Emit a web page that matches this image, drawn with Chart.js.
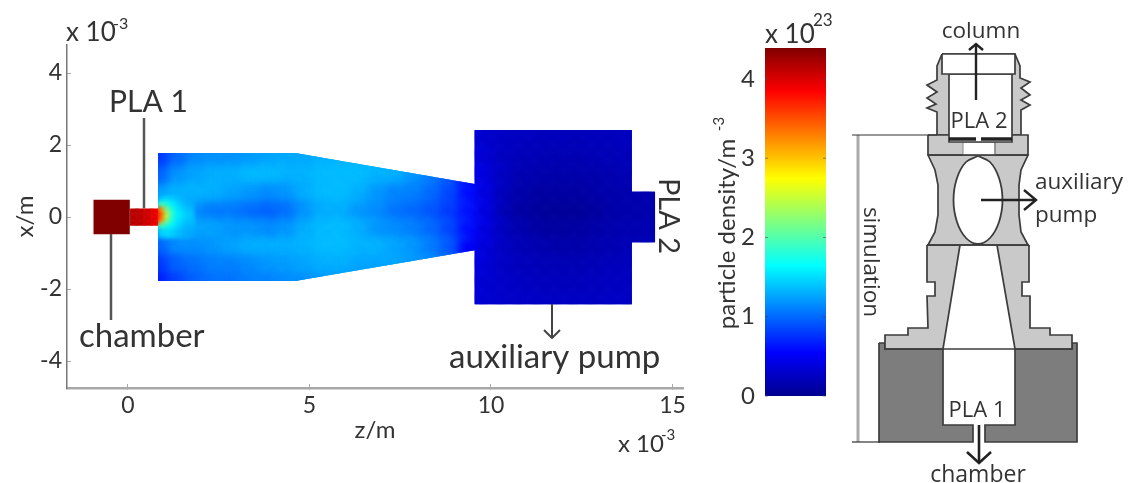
<!DOCTYPE html>
<html><head><meta charset="utf-8">
<script src="https://cdn.jsdelivr.net/npm/chart.js@4/dist/chart.umd.min.js"></script>
<style>
html,body{margin:0;padding:0;background:#fff;width:1129px;height:483px;overflow:hidden}
canvas{position:absolute;filter:blur(.55px)}
#wMain{position:absolute;left:0;top:0;width:700px;height:483px}
#wBar{position:absolute;left:700px;top:0;width:140px;height:483px}
#wSch{position:absolute;left:840px;top:0;width:289px;height:483px}
</style></head><body>
<div id="wMain"><canvas id="cMain"></canvas></div>
<div id="wBar"><canvas id="cBar"></canvas></div>
<div id="wSch"><canvas id="cSch"></canvas></div>
<script>
// ---- axes ----
const zTicks=[0,5,10,15];
const xTicks=[-4,-2,0,2,4];
const barTicks=[0,1,2,3,4];
// ---- density (units of 1e23 per m3) ----
const bulkZ=[0.5,1,1.5,2,2.5,3,3.5,4,4.5,5,5.5,6,6.5,7,7.5,8,8.5,9,9.5,10,10.5,11,11.5,12,12.5,13,13.5,14,14.5];
const bulkX=[2.5,2,1.5,1,0.5,0,-0.5,-1,-1.5,-2,-2.5];
const rowP25=[null,null,null,null,null,null,null,null,null,null,null,null,null,null,null,null,null,null,.36,.3,.28,.27,.26,.25,.25,.25,.25,.26,.26];
const rowP20=[.65,.72,.9,1.02,1.1,1.1,1.12,1.15,1.18,1.22,1.24,1.26,1.28,1.28,1.28,1.22,1.15,1,.38,.3,.26,.24,.22,.22,.21,.22,.22,.24,.24];
const rowP15=[.7,.8,1.02,1.15,1.18,1.18,1.22,1.26,1.28,1.28,1.32,1.32,1.32,1.32,1.28,1.26,1.15,1,.45,.32,.24,.2,.19,.18,.18,.19,.2,.22,.22];
const rowP10=[.85,.98,1.2,1.26,1.3,1.3,1.35,1.35,1.32,1.32,1.36,1.36,1.36,1.32,1.3,1.2,1.08,.92,.52,.36,.24,.17,.15,.14,.14,.15,.17,.19,.19];
const rowP05=[1,1.25,1.32,1.32,1.3,1.25,1.2,1.15,1.2,1.3,1.36,1.36,1.3,1.2,1.12,1.1,1,.85,.6,.38,.2,.13,.1,.1,.1,.13,.15,.16,.16];
const rowZ00=[1.25,1.4,1.28,1.15,1.08,1.08,1.02,.98,1.04,1.2,1.3,1.3,1.2,1.15,1.05,1,.92,.8,.62,.38,.18,.1,.07,.06,.06,.09,.13,.15,.15];
const rowM05=[1,1.25,1.32,1.26,1.25,1.2,1.2,1.15,1.2,1.3,1.36,1.36,1.3,1.2,1.15,1.1,1,.85,.6,.38,.22,.15,.1,.09,.1,.13,.16,.17,.17];
const rowM10=[.85,.98,1.15,1.16,1.2,1.25,1.3,1.3,1.3,1.32,1.36,1.36,1.32,1.32,1.26,1.2,1.08,.92,.52,.36,.25,.19,.16,.14,.14,.16,.18,.2,.2];
const rowM15=[.7,.8,.98,1.04,1.1,1.1,1.15,1.2,1.22,1.26,1.3,1.3,1.26,1.26,1.26,1.2,1.15,1,.45,.34,.26,.22,.2,.19,.19,.2,.22,.23,.23];
const rowM20=[.6,.68,.85,.98,1.04,1.04,1.1,1.1,1.15,1.16,1.2,1.2,1.2,1.2,1.2,1.16,1.1,1,.38,.32,.28,.25,.23,.22,.22,.23,.24,.25,.25];
const rowM25=[null,null,null,null,null,null,null,null,null,null,null,null,null,null,null,null,null,null,.38,.32,.29,.27,.26,.25,.25,.25,.26,.26,.26];
const bulkRows=[rowP25,rowP20,rowP15,rowP10,rowP05,rowZ00,rowM05,rowM10,rowM15,rowM20,rowM25];
// jet region around the end of PLA 1
const hotZ=[0.8,0.95,1.1,1.25,1.4,1.55,1.7];
const hotX=[0.45,0.3,0.15,0,-0.15,-0.3,-0.45];
const hotRows=[
 [1.2,1.45,1.5,1.45,1.38,1.32,1.28],
 [1.6,2.0,1.75,1.6,1.48,1.38,1.32],
 [3.8,3.2,2.2,1.75,1.55,1.45,1.38],
 [3.9,3.4,2.5,1.8,1.6,1.5,1.42],
 [3.8,3.2,2.2,1.75,1.55,1.45,1.38],
 [1.6,2.0,1.75,1.6,1.48,1.38,1.32],
 [1.2,1.45,1.5,1.45,1.38,1.32,1.28]];
const channelZ=[0.15,0.35,0.55,0.75,0.95];
const channelX=[0.2,0,-0.2];
const channelValues=[4.15,4.12,4.05,3.95,3.7];
const chamberValue=4.4;
const barMax=4.39;
// outlines of the simulated domain, z then x
const domainZ=[0.83,4.6,9.55,9.55,13.88,13.88,14.52,14.52,13.88,13.88,9.55,9.55,4.6,0.83];
const domainX=[1.78,1.78,0.92,2.42,2.42,0.7,0.7,-0.7,-0.7,-2.42,-2.42,-0.92,-1.78,-1.78];
const channelOutlineZ=[0.05,0.95,0.95,0.05];
const channelOutlineX=[0.24,0.24,-0.24,-0.24];
const chamberOutlineZ=[-0.95,0.05,0.05,-0.95];
const chamberOutlineX=[0.48,0.48,-0.48,-0.48];
// jet colour map
const jetStops=[[0,0,0,143],[.125,0,0,255],[.375,0,255,255],[.625,255,255,0],[.875,255,0,0],[1,128,0,0]];
function jet(v){
  const f=Math.max(0,Math.min(1,v/barMax));
  for(let i=1;i<jetStops.length;i++){
    if(f<=jetStops[i][0]){
      const a=jetStops[i-1],b=jetStops[i],t=(f-a[0])/(b[0]-a[0]);
      return `rgb(${a[1]+(b[1]-a[1])*t},${a[2]+(b[2]-a[2])*t},${a[3]+(b[3]-a[3])*t})`;
    }
  }
  return 'rgb(128,0,0)';
}
function gridPoints(zs,xs,rows){
  const out=[];
  xs.forEach((x,r)=>zs.forEach((z,c)=>{const v=rows[r][c];if(v!==null)out.push({x:z,y:x,v});}));
  return out;
}
function layer(data,step,overlap,blur,outZ,outX,order){
  return {type:'scatter',data,order,showLine:false,pointStyle:'rect',pointBorderWidth:0,
    pointRadius:c=>{const s=c.chart.scales.x;return Math.abs(s.getPixelForValue(step)-s.getPixelForValue(0))*overlap/Math.SQRT2;},
    pointHoverRadius:0,
    pointBackgroundColor:c=>jet(c.raw.v),
    heat:{blur,outZ,outX}};
}
const TXT='#333333', SANS='Lato, sans-serif', OPEN='"Open Sans", sans-serif';
function label(ctx,t,x,y,o={}){
  ctx.save();ctx.translate(x,y);if(o.rot)ctx.rotate(o.rot);
  ctx.font=o.font||`22px ${SANS}`;ctx.fillStyle=o.color||TXT;ctx.textAlign=o.align||'left';ctx.textBaseline='middle';
  ctx.fillText(t,0,0);ctx.restore();
}
function seg(ctx,pts,w,col){
  ctx.save();ctx.strokeStyle=col;ctx.lineWidth=w;ctx.lineJoin='round';ctx.beginPath();
  pts.forEach((p,i)=>i?ctx.lineTo(p[0],p[1]):ctx.moveTo(p[0],p[1]));ctx.stroke();ctx.restore();
}
const heatPlugin={id:'heat',
  beforeDatasetDraw(chart,args){
    const h=chart.data.datasets[args.index].heat;if(!h)return;
    const c=chart.ctx,sx=chart.scales.x,sy=chart.scales.y;
    c.save();c.beginPath();
    h.outZ.forEach((z,i)=>{const px=sx.getPixelForValue(z),py=sy.getPixelForValue(h.outX[i]);i?c.lineTo(px,py):c.moveTo(px,py);});
    c.closePath();c.clip();
    c.filter=`blur(${h.blur}px)`;
  },
  afterDatasetDraw(chart,args){
    if(chart.data.datasets[args.index].heat)chart.ctx.restore();
  }};
const mainNotes={id:'mainNotes',afterDraw(chart){
  const c=chart.ctx;
  seg(c,[[144,118],[144,208]],2.5,'#555');
  seg(c,[[111,234],[111,320]],2.5,'#555');
  seg(c,[[552,304],[552,338]],2,'#444');
  seg(c,[[544,330],[552,338],[560,330]],2,'#444');
  label(c,'PLA 1',109,102,{font:`30px ${SANS}`});
  label(c,'chamber',79,336,{font:`33px ${SANS}`});
  label(c,'auxiliary pump',449,357,{font:`33px ${SANS}`});
  label(c,'PLA 2',668,216,{font:`29px ${SANS}`,rot:Math.PI/2,align:'center'});
  label(c,'x 10',66,33,{font:`26px ${SANS}`});
  label(c,'-3',113,24,{font:`16px ${SANS}`});
  label(c,'x 10',618,444,{font:`24px ${SANS}`});
  label(c,'-3',661,435,{font:`15px ${SANS}`});
}};
new Chart(document.getElementById('cMain'),{
  type:'scatter',
  data:{datasets:[
    layer(gridPoints(bulkZ,bulkX,bulkRows),0.5,1.6,5,domainZ,domainX,3),
    layer(gridPoints(channelZ,channelX,channelX.map(()=>channelValues)),0.2,1.3,1,channelOutlineZ,channelOutlineX,2),
    layer(gridPoints(hotZ,hotX,hotRows),0.15,1.5,2,domainZ,domainX,1),
    layer([{x:-0.45,y:0,v:chamberValue}],1.1,1.1,0,chamberOutlineZ,chamberOutlineX,0)
  ]},
  plugins:[heatPlugin,mainNotes],
  options:{responsive:true,maintainAspectRatio:false,animation:false,events:[],
    layout:{padding:{left:0,top:45,right:17,bottom:0}},
    plugins:{legend:{display:false},tooltip:{enabled:false}},
    scales:{
      x:{type:'linear',min:-1.68,max:15.29,
        afterBuildTicks:s=>{s.ticks=zTicks.map(value=>({value}));},
        afterFit:s=>{s.height=95;},
        grid:{drawOnChartArea:false,tickLength:-4,tickColor:'#aaa'},
        border:{color:'#a8a8a8',width:2.5},
        ticks:{color:TXT,font:{family:'Lato',size:23},padding:8,maxRotation:0},
        title:{display:true,text:'z/m',color:TXT,font:{family:'Lato',size:24},padding:{top:0,bottom:38}}},
      y:{type:'linear',min:-4.75,max:4.78,
        afterBuildTicks:s=>{s.ticks=xTicks.map(value=>({value}));},
        afterFit:s=>{s.width=67;},
        grid:{drawOnChartArea:false,tickLength:-4,tickColor:'#aaa'},
        border:{color:'#777',width:1.5},
        ticks:{color:TXT,font:{family:'Lato',size:23},padding:9},
        title:{display:true,text:'x/m',color:TXT,font:{family:'Lato',size:24},padding:{top:11,bottom:0}}}
    }}
});
// ---- colour bar ----
const barCategories=['density'];
const barRange=[[0,barMax]];
const barNotes={id:'barNotes',afterDatasetsDraw(chart){
  const c=chart.ctx,a=chart.chartArea,y=chart.scales.y;
  barTicks.forEach(v=>{const p=y.getPixelForValue(v);
    seg(c,[[a.left,p],[a.left+3,p]],1,'rgba(70,70,70,.6)');
    seg(c,[[a.right-3,p],[a.right,p]],1,'rgba(70,70,70,.6)');});
},afterDraw(chart){
  const c=chart.ctx;
  label(c,'x 10',65,35,{font:`26px ${SANS}`});
  label(c,'23',113,21,{font:`17px ${SANS}`});
  label(c,'particle density/m',27,234,{font:`24px ${SANS}`,rot:-Math.PI/2,align:'center'});
  label(c,'-3',19,124,{font:`15px ${SANS}`,rot:-Math.PI/2,align:'center'});
}};
new Chart(document.getElementById('cBar'),{
  type:'bar',
  data:{labels:barCategories,datasets:[{data:barRange,categoryPercentage:1,barPercentage:1,borderWidth:0,
    backgroundColor:c=>{
      const y=c.chart.scales.y;
      if(!c.chart.chartArea)return '#00f';
      const g=c.chart.ctx.createLinearGradient(0,y.getPixelForValue(0),0,y.getPixelForValue(barMax));
      jetStops.forEach(s=>g.addColorStop(s[0],`rgb(${s[1]},${s[2]},${s[3]})`));
      return g;
    }}]},
  plugins:[barNotes],
  options:{responsive:true,maintainAspectRatio:false,animation:false,events:[],
    layout:{padding:{left:0,top:48,right:14,bottom:87}},
    plugins:{legend:{display:false},tooltip:{enabled:false}},
    scales:{
      x:{display:false},
      y:{min:0,max:barMax,
        afterBuildTicks:s=>{s.ticks=barTicks.map(value=>({value}));},
        afterFit:s=>{s.width=65;},
        grid:{display:false},border:{display:false},
        ticks:{color:TXT,font:{family:'Lato',size:24},padding:2}}
    }}
});
// ---- schematic (page pixel coordinates) ----
const G1='#c9c9c9',G2='#7d7d7d',EDGE='#3c3c3c',W='#ffffff';
const bodyTop=[[942,54],[937,66],[937,80],[927,85],[937,92],[927,98],[936,104],[927,108],[937,112],[937,135],[1021,135],[1021,110],[1030,105],[1021,100],[1030,95],[1021,88],[1030,82],[1020,78],[1020,66],[1015,54]];
const boreTop=[[949,74],[1012,74],[1012,142],[949,142]];
const capTop=[[942,54],[1015,54],[1015,74],[942,74]];
const blockMid=[[928,135],[1028,135],[1028,155],[928,155]];
const holeMid=[[963,142],[995,142],[995,155],[963,155]];
const waist=[[928,155],[935,170],[938,185],[938,215],[935,232],[928,245],[1028,245],[1021,232],[1019,215],[1019,185],[1021,170],[1028,155]];
const pumpHole=[[978,156],[990,162],[999,178],[1002.5,200],[999,222],[990,238],[978,244],[966,238],[957,222],[953.5,200],[957,178],[966,162]];
const lowerLeft=[[927,245],[927,282],[935,282],[935,296],[927,296],[928,328],[908,328],[908,335],[885,335],[885,349],[943,349],[960,245]];
const lowerRight=[[1029,245],[1029,282],[1022,282],[1022,296],[1030,296],[1030,328],[1050,328],[1050,335],[1072,335],[1072,349],[1015,349],[997,245]];
const baseLeft=[[879,343],[885,343],[885,349],[943,349],[943,425],[973,425],[973,442],[879,442]];
const baseRight=[[1015,349],[1072,349],[1072,343],[1077,343],[1077,442],[985,442],[985,425],[1015,425]];
const ruleMid=[[928,155],[1028,155]];
const ruleLow=[[927,245],[1029,245]];
const ruleBase=[[885,349],[1072,349]];
const simRule=[[858,135],[858,442]];
const simTop=[[852,135],[937,135]];
const simBottom=[[852,442],[880,442]];
const plaBarL=[[949,139],[976,139]];
const plaBarR=[[981,139],[1012,139]];
const arrowColumn=[[976,100],[976,44]];
const headColumn=[[969,50],[976,44],[983,50]];
const arrowPump=[[981,200],[1036,200]];
const headPump=[[1024,190],[1036,200],[1024,210]];
const arrowChamber=[[979,425],[979,462]];
const headChamber=[[967,452],[979,463],[991,452]];
const toXY=p=>p.map(q=>({x:q[0],y:q[1]}));
const closed=p=>toXY(p.concat([p[0]]));
function area(p,fill,w=1.7,col=EDGE,tension=0){
  return {type:'scatter',showLine:true,data:closed(p),fill:'shape',backgroundColor:fill,borderColor:col,borderWidth:w,pointRadius:0,tension,clip:false};
}
function stroke(p,w,col=EDGE){
  return {type:'scatter',showLine:true,data:toXY(p),fill:false,borderColor:col,borderWidth:w,pointRadius:0,clip:false};
}
const shapes=[
  area(baseLeft,G2),area(baseRight,G2),
  area(lowerLeft,G1),area(lowerRight,G1),
  area(waist,G1),area(pumpHole,W,1.8,EDGE,.35),
  area(bodyTop,G1),area(blockMid,G1),area(holeMid,W,1,'#888'),
  area(boreTop,W),area(capTop,W),
  stroke(ruleMid,1.7),stroke(ruleLow,1.7),stroke(ruleBase,1.7),
  stroke(plaBarL,3.5,'#222'),stroke(plaBarR,3.5,'#222'),
  stroke(simRule,3,'#ababab'),stroke(simTop,1.2,'#333'),stroke(simBottom,1.2,'#333'),
  stroke(arrowColumn,2.4,'#222'),stroke(headColumn,2.4,'#222'),
  stroke(arrowPump,2.4,'#222'),stroke(headPump,2.4,'#222'),
  stroke(arrowChamber,2.6,'#222'),stroke(headChamber,2.6,'#222')
];
const schNotes={id:'schNotes',afterDraw(chart){
  const c=chart.ctx,d=-840;
  const f=`22.5px ${OPEN}`;
  label(c,'column',981+d,32,{font:f,align:'center'});
  label(c,'auxiliary',1035+d,183,{font:f});
  label(c,'pump',1035+d,216,{font:f});
  label(c,'PLA 2',979+d,122,{font:`22px ${OPEN}`,align:'center'});
  label(c,'PLA 1',977+d,411,{font:`22px ${OPEN}`,align:'center'});
  label(c,'chamber',978+d,475,{font:`23px ${OPEN}`,align:'center'});
  label(c,'simulation',870+d,262,{font:f,rot:Math.PI/2,align:'center'});
}};
new Chart(document.getElementById('cSch'),{
  type:'scatter',
  data:{datasets:shapes.slice().reverse()},
  plugins:[schNotes],
  options:{responsive:true,maintainAspectRatio:false,animation:false,events:[],
    layout:{padding:0},
    plugins:{legend:{display:false},tooltip:{enabled:false}},
    scales:{x:{display:false,type:'linear',min:840,max:1129},y:{display:false,type:'linear',min:0,max:483,reverse:true}}}
});
</script>
</body></html>
